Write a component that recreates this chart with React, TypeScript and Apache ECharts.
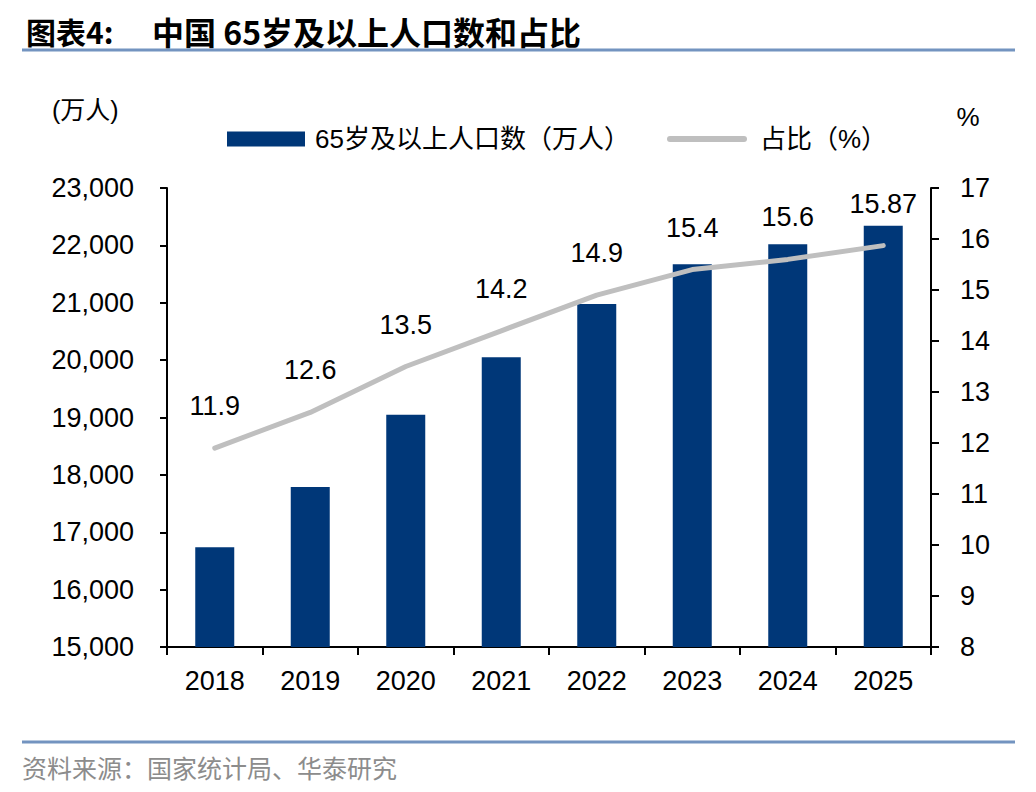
import React, { useEffect, useRef } from "react";
import * as echarts from "echarts";

const years = ["2018", "2019", "2020", "2021", "2022", "2023", "2024", "2025"];
const population = [16740, 17790, 19050, 20050, 20980, 21670, 22020, 22340];
const share = [11.9, 12.6, 13.5, 14.2, 14.9, 15.4, 15.6, 15.87];
const barName = "65岁及以上人口数（万人）";
const lineName = "占比（%）";
const titleLabel = "图表4:";
const titleText = "中国 65岁及以上人口数和占比";
const leftUnit = "(万人)";
const rightUnit = "%";
const sourceText = "资料来源：国家统计局、华泰研究";

const FONT = "'Liberation Sans', 'Noto Sans CJK SC', sans-serif";
const CJK = "'Noto Sans CJK SC', 'Liberation Sans', sans-serif";

export default function App() {
  const ref = useRef<HTMLDivElement>(null);
  useEffect(() => {
    if (!ref.current) return;
    const chart = echarts.init(ref.current, undefined, { renderer: "svg" });
    chart.setOption({
      animation: false,
      backgroundColor: "#ffffff",
      textStyle: { fontFamily: FONT },
      grid: { left: 167, right: 105, top: 188, bottom: 145, containLabel: false },
      legend: [
        {
          data: [{ name: barName, icon: "rect" }],
          left: 222,
          top: 121,
          itemWidth: 78,
          itemHeight: 15,
          textStyle: { fontSize: 26, color: "#000", fontFamily: FONT, padding: [0, 0, 0, 5] },
        },
        {
          data: [
            {
              name: lineName,
              icon: "path://M3,0 L77,0 A3,3 0 0 1 77,6 L3,6 A3,3 0 0 1 3,0 Z",
            },
          ],
          left: 662,
          top: 121,
          itemWidth: 80,
          itemHeight: 6,
          textStyle: { fontSize: 26, color: "#000", fontFamily: FONT, padding: [0, 0, 0, 8] },
        },
      ],
      xAxis: {
        type: "category",
        data: years,
        axisLine: { show: true, lineStyle: { color: "#000", width: 2 } },
        axisTick: { show: true, length: 8, lineStyle: { color: "#000", width: 2 } },
        axisLabel: { fontSize: 27, color: "#000", margin: 20, fontFamily: FONT },
        splitLine: { show: false },
      },
      yAxis: [
        {
          type: "value",
          min: 15000,
          max: 23000,
          interval: 1000,
          axisLine: { show: true, lineStyle: { color: "#000", width: 2 } },
          axisTick: { show: true, length: 7, lineStyle: { color: "#000", width: 2 } },
          axisLabel: {
            fontSize: 27,
            color: "#000",
            margin: 33,
            fontFamily: FONT,
            formatter: (v: number) => v.toLocaleString("en-US"),
          },
          splitLine: { show: false },
        },
        {
          type: "value",
          min: 8,
          max: 17,
          interval: 1,
          position: "right",
          axisLine: { show: true, lineStyle: { color: "#000", width: 2 } },
          axisTick: { show: true, length: 8, lineStyle: { color: "#000", width: 2 } },
          axisLabel: { fontSize: 27, color: "#000", margin: 29, fontFamily: FONT },
          splitLine: { show: false },
        },
      ],
      series: [
        {
          name: barName,
          type: "bar",
          yAxisIndex: 0,
          data: population,
          barWidth: 39,
          itemStyle: { color: "#003778" },
        },
        {
          name: lineName,
          type: "line",
          yAxisIndex: 1,
          data: share,
          symbol: "circle",
          symbolSize: 1,
          showSymbol: true,
          itemStyle: { color: "#BFBFBF" },
          lineStyle: { color: "#BFBFBF", width: 5, cap: "round", join: "round" },
          label: {
            show: true,
            position: "top",
            distance: 28,
            fontSize: 27,
            color: "#000",
            fontFamily: FONT,
          },
          z: 5,
        },
      ],
      graphic: [
        {
          type: "text",
          x: 26,
          y: 31,
          style: {
            text: titleLabel,
            fill: "#000",
            font: `bold 30px ${CJK}`,
            align: "left",
            verticalAlign: "middle",
          },
        },
        {
          type: "text",
          x: 152,
          y: 31,
          style: {
            text: titleText,
            fill: "#000",
            font: `bold 32px ${CJK}`,
            align: "left",
            verticalAlign: "middle",
          },
        },
        {
          type: "line",
          shape: { x1: 22, y1: 50, x2: 1015, y2: 50 },
          style: { stroke: "#7394C0", lineWidth: 3 },
        },
        {
          type: "text",
          x: 52,
          y: 110,
          style: {
            text: leftUnit,
            fill: "#000",
            font: `25px ${FONT}`,
            align: "left",
            verticalAlign: "middle",
          },
        },
        {
          type: "text",
          x: 968,
          y: 117,
          style: {
            text: rightUnit,
            fill: "#000",
            font: `26px ${FONT}`,
            align: "center",
            verticalAlign: "middle",
          },
        },
        {
          type: "line",
          shape: { x1: 22, y1: 742, x2: 1015, y2: 742 },
          style: { stroke: "#7394C0", lineWidth: 3 },
        },
        {
          type: "text",
          x: 22,
          y: 767,
          style: {
            text: sourceText,
            fill: "#8C8C8C",
            font: `25px ${CJK}`,
            align: "left",
            verticalAlign: "middle",
          },
        },
      ],
    });
    return () => chart.dispose();
  }, []);
  return (
    <div
      ref={ref}
      style={{ position: "fixed", left: 0, top: 0, width: 1036, height: 792, background: "#fff" }}
    />
  );
}
